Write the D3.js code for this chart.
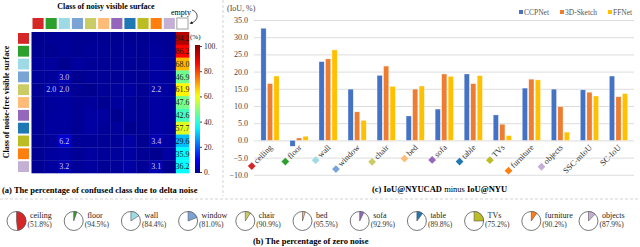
<!DOCTYPE html>
<html><head><meta charset="utf-8">
<script src="https://cdn.jsdelivr.net/npm/d3@7"></script>
<style>
body{margin:0;background:#fff}
svg{display:block}
text{font-family:"Liberation Serif","DejaVu Serif",serif}
</style>
</head><body>
<svg id="c" width="640" height="247"></svg>
<script>
// ---------- data ----------
const classes = ["ceiling","floor","wall","window","chair","bed","sofa","table","TVs","furniture","objects"];
const classColors = ["#d62728","#2ca02c","#9edae5","#7aa3d6","#cccc66","#ffbb78","#9467bd","#1f77b4","#bcbd22","#ff7f0e","#c5b0d5"];
const emptyPct = [94.2,86.2,68.0,46.9,61.9,47.6,42.6,57.7,29.6,35.9,36.2];
// rows: noise-free class, cols: noisy class (diagonal excluded)
const confusion = [
  [0,0.6,0.8,0.3,0.4,0.2,0.3,0.4,0.2,0.9,0.5],
  [0.3,0,0.9,0.2,0.8,0.4,0.5,0.9,0.2,1.2,0.6],
  [1.1,1.2,0,1.4,0.9,0.5,0.6,0.9,0.4,1.8,1.3],
  [1.0,1.1,3.0,0,0.9,0.6,0.7,0.9,0.5,1.8,1.2],
  [0.4,2.0,2.0,0.5,0,0.7,1.1,1.6,0.3,2.2,1.5],
  [0.3,1.2,1.5,0.6,1.0,0,1.3,1.0,0.3,1.9,1.4],
  [0.3,1.3,1.7,0.6,1.6,1.5,0,1.1,0.4,1.9,1.5],
  [0.3,1.6,1.4,0.5,1.8,0.8,1.0,0,0.4,1.9,1.6],
  [0.4,1.0,6.2,0.8,0.9,0.5,0.9,1.9,0,3.4,1.8],
  [0.5,1.5,1.9,0.7,1.4,0.9,1.2,1.8,0.5,0,1.9],
  [0.5,1.4,3.2,0.8,1.5,0.7,1.1,1.9,0.6,3.1,0]
];
const colorbarTicks = [0,20,40,60,80,100];

const barCategories = ["ceiling","floor","wall","window","chair","bed","sofa","table","TVs","furniture","objects","SSC-mIoU","SC-IoU"];
const seriesNames = ["CCPNet","3D-Sketch","FFNet"];
const seriesColors = ["#4472c4","#ed7d31","#ffc000"];
const ccpnet   = [32.6,-1.7,22.9,14.9,18.9,7.1,9.1,19.3,7.4,15.2,14.9,14.7,18.7];
const sketch3d = [16.5,0.7,23.7,8.3,21.6,14.9,19.3,16.5,4.7,17.8,9.8,14.0,12.7];
const ffnet    = [18.7,1.2,26.3,5.8,15.7,15.8,18.6,18.8,1.4,17.6,2.4,12.9,13.6];
const barTicks = [35,30,25,20,15,10,5,0,-5,-10];

const zeroNoise = [51.8,94.5,84.4,81.0,90.9,95.5,92.9,89.8,75.2,90.2,87.9];

// ---------- setup ----------
const svg = d3.select("#c");
const serif = '"Liberation Serif","DejaVu Serif",serif';
const jet = d3.scaleLinear()
  .domain([0,0.11,0.36,0.61,0.86,1])
  .range(["#000090","#0000ff","#00ffff","#ffff00","#ff0000","#800000"])
  .clamp(true);
const heatColor = v => jet(v/100);

// separators
svg.append("line").attr("x1",223).attr("x2",223).attr("y1",0).attr("y2",196)
  .attr("stroke","#c8c8c8").attr("stroke-dasharray","3,2").attr("stroke-width",0.8);
svg.append("line").attr("x1",0).attr("x2",640).attr("y1",199).attr("y2",199)
  .attr("stroke","#c8c8c8").attr("stroke-dasharray","3,2").attr("stroke-width",0.8);

// ---------- (a) heatmap ----------
const hx = d3.scaleBand().domain(d3.range(12)).range([31.5,189]);
const hy = d3.scaleBand().domain(d3.range(11)).range([32,173]);
const ga = svg.append("g");

ga.append("text").attr("x",106).attr("y",9).attr("text-anchor","middle")
  .attr("font-weight","bold").attr("font-size",8).text("Class of noisy visible surface");
ga.append("text").attr("transform","translate(9,102) rotate(-90)").attr("text-anchor","middle")
  .attr("font-weight","bold").attr("font-size",8).text("Class of noise-free visible surface");

// top swatches
const topCols = classes.concat(["empty"]);
ga.selectAll("rect.top").data(topCols).join("rect")
  .attr("x",(d,i)=>hx(i)+1).attr("y",18).attr("width",hx.bandwidth()-2).attr("height",11)
  .attr("fill",(d,i)=> i<11 ? classColors[i] : "#fff")
  .attr("stroke",(d,i)=> i<11 ? "none" : "#888").attr("stroke-width",0.8);
// row swatches
ga.selectAll("rect.row").data(classes).join("rect")
  .attr("x",18).attr("y",(d,i)=>hy(i)+1).attr("width",11).attr("height",hy.bandwidth()-2)
  .attr("fill",(d,i)=>classColors[i]);

// empty label + arrow
ga.append("text").attr("x",171).attr("y",15).attr("font-size",8).text("empty");
svg.append("defs").append("marker").attr("id","ah").attr("viewBox","0 0 6 6")
  .attr("refX",3).attr("refY",3).attr("markerWidth",4).attr("markerHeight",4).attr("orient","auto")
  .append("path").attr("d","M0,0 L6,3 L0,6 Z").attr("fill","#222");
ga.append("path").attr("d","M192,10 C199,12 199,21 191,23").attr("fill","none")
  .attr("stroke","#222").attr("stroke-width",0.8).attr("marker-end","url(#ah)");

// cells
const cells = [];
confusion.forEach((row,r)=>row.forEach((v,c)=>cells.push({r,c,v})));
emptyPct.forEach((v,r)=>cells.push({r,c:11,v}));
ga.selectAll("rect.cell").data(cells).join("rect")
  .attr("x",d=>hx(d.c)).attr("y",d=>hy(d.r))
  .attr("width",hx.bandwidth()+0.3).attr("height",hy.bandwidth()+0.3)
  .attr("fill",d=>heatColor(d.v));
ga.selectAll("text.cell").data(cells.filter(d=>d.c===11 || d.v>=2)).join("text")
  .attr("x",d=>hx(d.c)+hx.bandwidth()/2).attr("y",d=>hy(d.r)+hy.bandwidth()/2+2.8)
  .attr("text-anchor","middle").attr("font-size",8)
  .attr("fill",d=>d.c===11 ? "#1a1a1a" : "#c8c8e8")
  .text(d=>d.v.toFixed(1));

// colorbar
const cbY = d3.scaleLinear().domain([0,100]).range([172,46]);
const grad = svg.select("defs").append("linearGradient").attr("id","jet")
  .attr("x1",0).attr("x2",0).attr("y1",1).attr("y2",0);
d3.range(0,1.001,0.05).forEach(t=>grad.append("stop").attr("offset",t).attr("stop-color",jet(t)));
ga.append("rect").attr("x",195).attr("y",cbY(100)-1).attr("width",5).attr("height",cbY(0)-cbY(100)+2)
  .attr("fill","url(#jet)");
ga.append("text").attr("x",190).attr("y",39).attr("font-size",7).text("(%)");
const cbAxis = ga.append("g").attr("transform","translate(200,0)")
  .call(d3.axisRight(cbY).tickValues(colorbarTicks).tickSize(2).tickPadding(2).tickFormat(d=>d+"."));
cbAxis.select(".domain").remove();
cbAxis.selectAll("text").attr("font-family",serif).attr("font-size",7.5).attr("fill","#222");
cbAxis.selectAll("line").attr("stroke","#444");

ga.append("text").attr("x",2).attr("y",193).attr("font-weight","bold").attr("font-size",8.5)
  .text("(a) The percentage of confused class due to delta noise");

// ---------- (c) bar chart ----------
const gc = svg.append("g");
const bx = d3.scaleBand().domain(barCategories).range([255.5,633]);
const by = d3.scaleLinear().domain([-10,35]).range([174.8,20]);
const yAxis = gc.append("g").attr("transform","translate(254,0)")
  .call(d3.axisLeft(by).tickValues(barTicks).tickSize(-380).tickPadding(6).tickFormat(d3.format(".1f")));
yAxis.select(".domain").remove();
yAxis.selectAll("line").attr("stroke","#d9d9d9").attr("stroke-width",0.9);
yAxis.selectAll("text").attr("font-family",serif).attr("font-size",8).attr("fill","#444");
gc.append("text").attr("x",227).attr("y",11).attr("font-size",8).attr("fill","#444").text("(IoU, %)");

const series = [ccpnet, sketch3d, ffnet];
const offs = [-6.5,0,6.5];
series.forEach((vals,si)=>{
  gc.selectAll("rect.s"+si).data(vals).join("rect")
    .attr("x",(d,i)=>bx(barCategories[i])+bx.bandwidth()/2+offs[si]-2.6)
    .attr("width",5.2)
    .attr("y",d=>by(Math.max(d,0)))
    .attr("height",d=>Math.abs(by(d)-by(0)))
    .attr("fill",seriesColors[si])
    .attr("stroke","#fff").attr("stroke-opacity",0.6).attr("stroke-width",0.5);
});

// x labels
barCategories.forEach((cat,i)=>{
  const cx = bx(cat)+bx.bandwidth()/2;
  const g = gc.append("g").attr("transform",`translate(${cx+3},148) rotate(-45)`);
  const t = g.append("text").attr("text-anchor","end").attr("font-size",8.3).attr("fill","#333").text(cat);
  if(i<11){
    const w = t.node().getComputedTextLength();
    g.append("rect").attr("x",-w-8).attr("y",-5).attr("width",5.5).attr("height",5.5)
      .attr("fill",classColors[i]);
  }
});

// legend
const legX = [519,560,608];
seriesNames.forEach((n,i)=>{
  gc.append("rect").attr("x",legX[i]).attr("y",10).attr("width",4).attr("height",4).attr("fill",seriesColors[i]);
  gc.append("text").attr("x",legX[i]+5).attr("y",15).attr("font-size",7.5).attr("fill","#555").text(n);
});

const cap = gc.append("text").attr("x",372).attr("y",192).attr("font-size",8.5);
cap.append("tspan").attr("font-weight","bold").text("(c) IoU@NYUCAD");
cap.append("tspan").text(" minus ");
cap.append("tspan").attr("font-weight","bold").text("IoU@NYU");

// ---------- (b) pies ----------
const gb = svg.append("g");
const pieR = 9.5;
const arc = d3.arc().innerRadius(0).outerRadius(pieR);
zeroNoise.forEach((p,i)=>{
  const cx = 16.5 + 57.2*i, cy = 221;
  const g = gb.append("g").attr("transform",`translate(${cx},${cy})`);
  g.append("circle").attr("r",pieR).attr("fill","#fff").attr("stroke","#555").attr("stroke-width",0.8);
  g.append("path").attr("d",arc({startAngle:0,endAngle:2*Math.PI*(1-p/100)}))
    .attr("fill",classColors[i]).attr("stroke","#555").attr("stroke-width",0.6);
  gb.append("text").attr("x",cx+13.5).attr("y",217.5).attr("font-size",8).attr("fill","#222").text(classes[i]);
  gb.append("text").attr("x",cx+11).attr("y",227).attr("font-size",7.5).attr("fill","#333").text(`(${p.toFixed(1)}%)`);
});
gb.append("text").attr("x",253).attr("y",244).attr("font-weight","bold").attr("font-size",8.5)
  .text("(b) The percentage of zero noise");
</script>
</body></html>
